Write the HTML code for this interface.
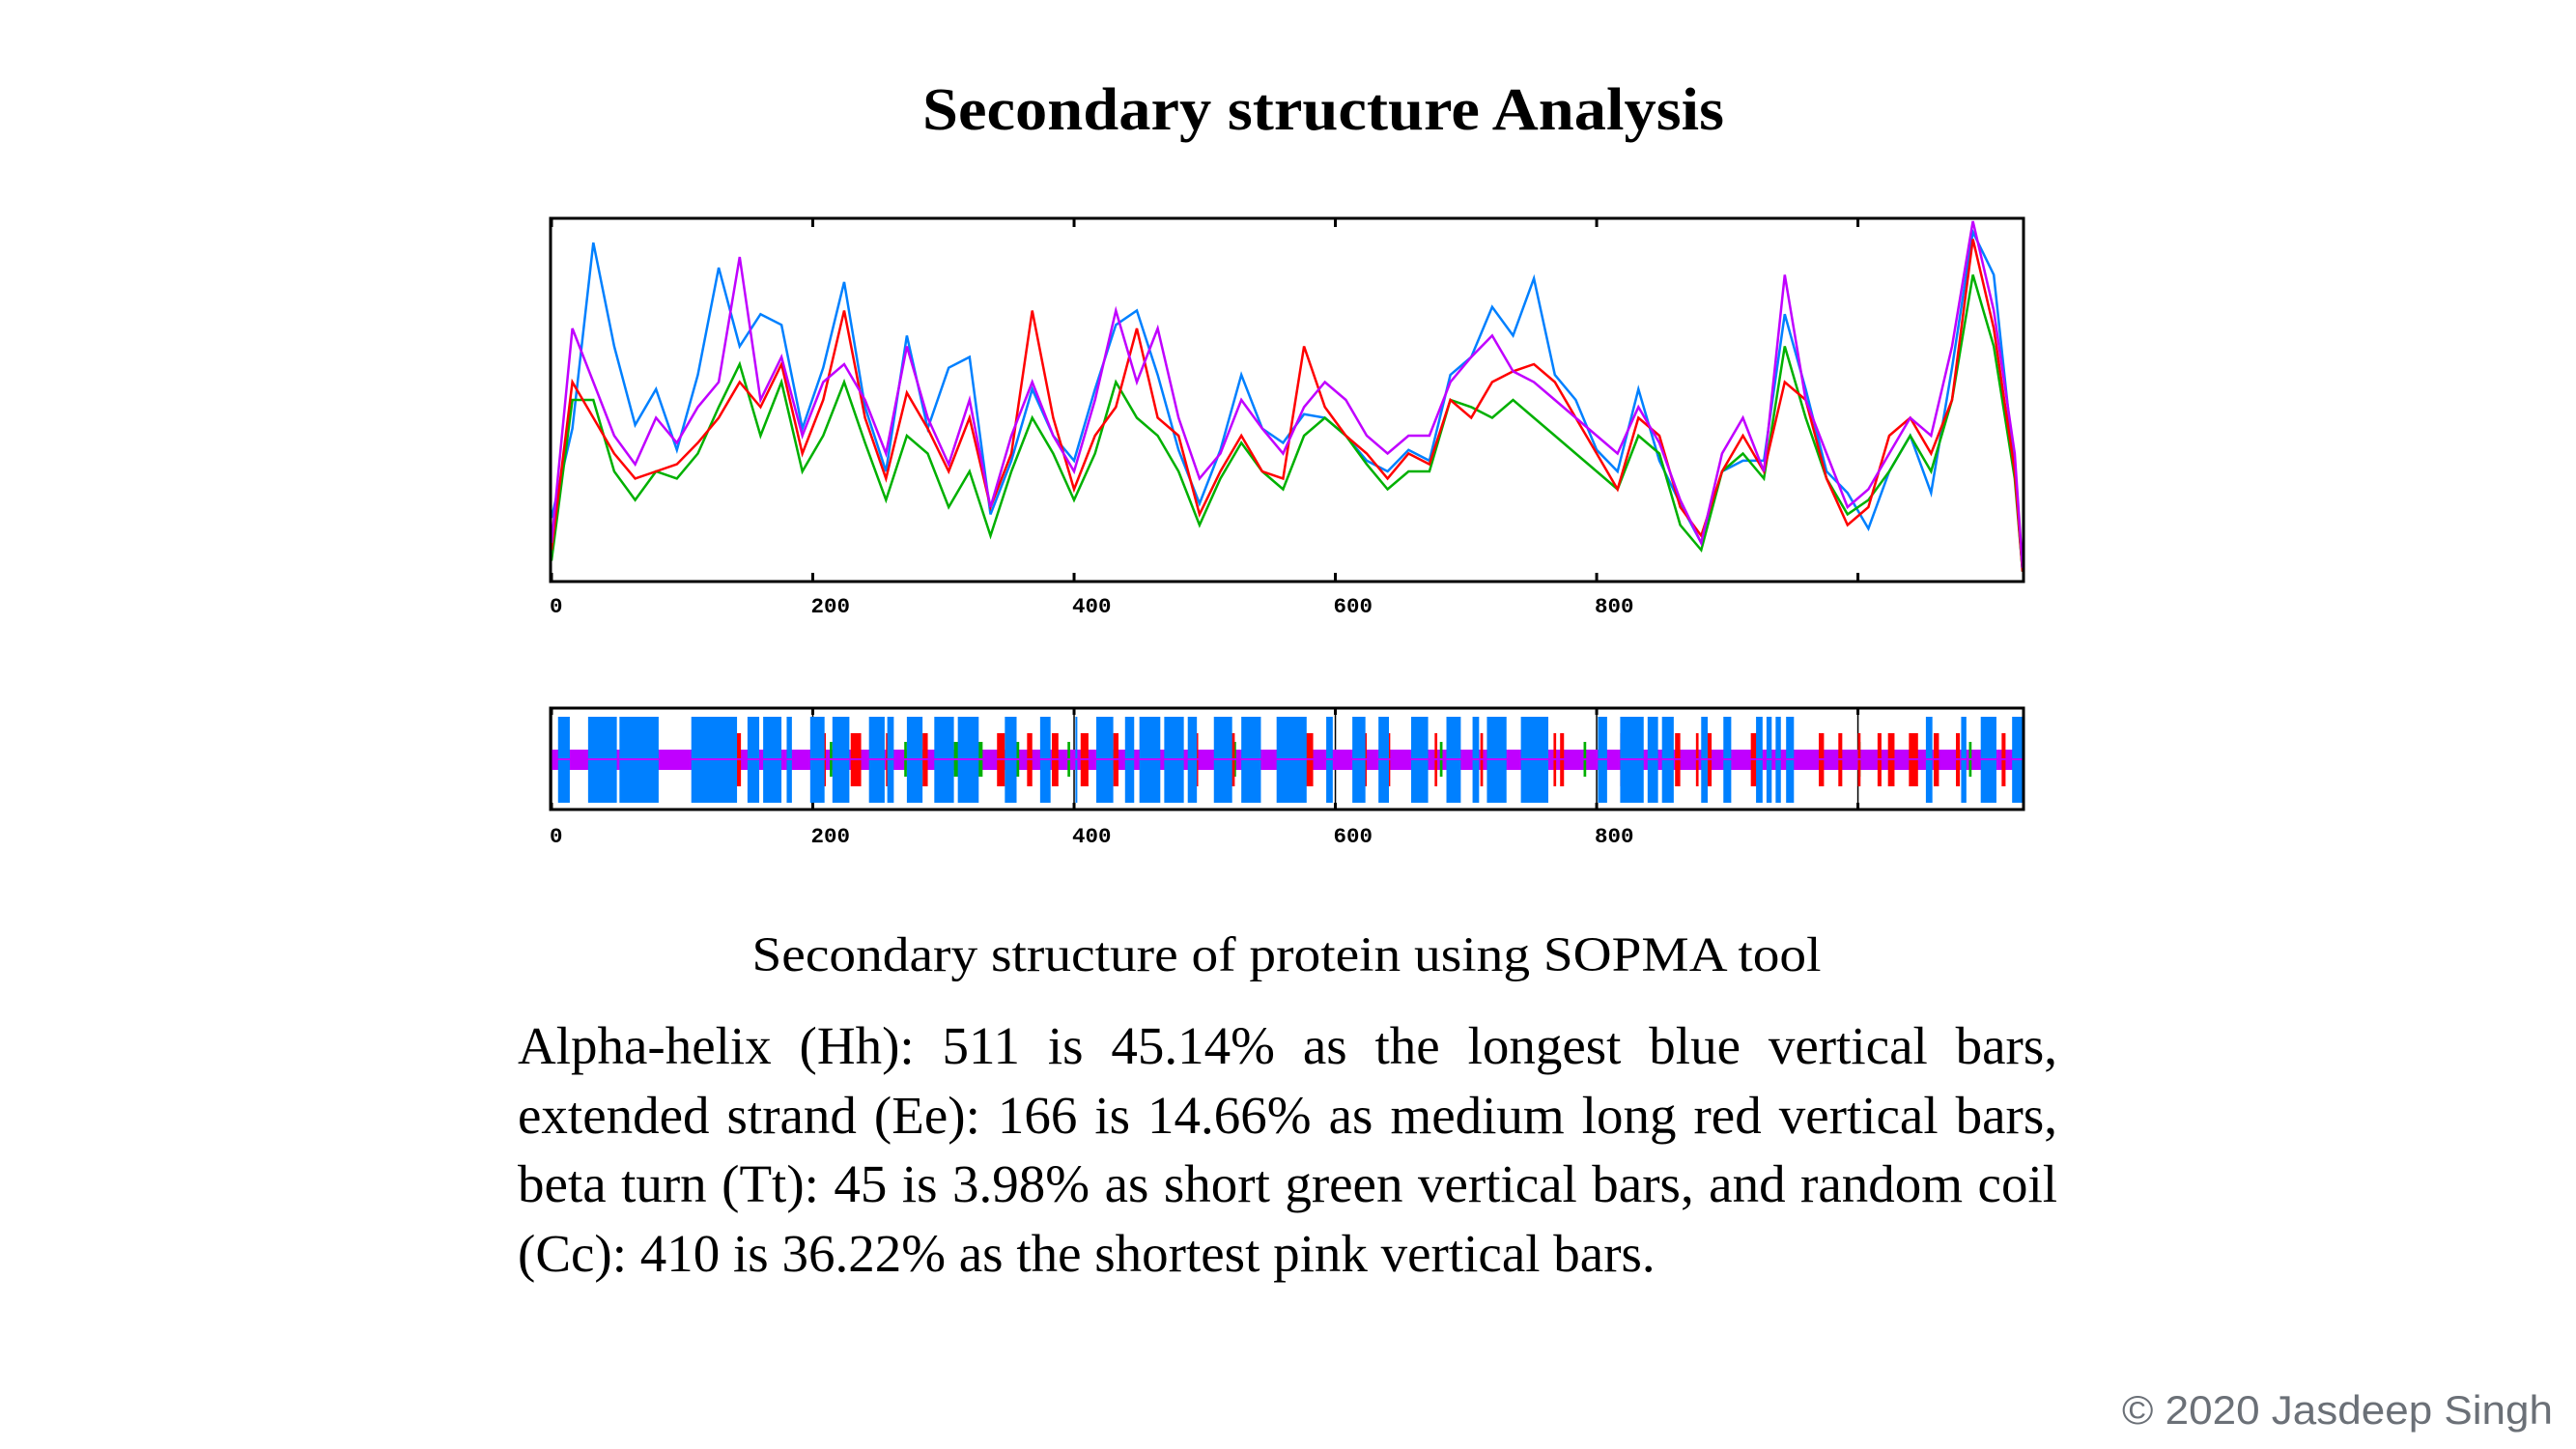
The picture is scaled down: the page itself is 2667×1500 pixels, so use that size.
<!DOCTYPE html>
<html><head><meta charset="utf-8"><style>
html,body{margin:0;padding:0;background:#fff;}
svg{display:block;position:absolute;left:0;top:0;}
#para{position:absolute;left:536px;top:1047px;width:1594px;font-family:"Liberation Serif",serif;font-size:55px;line-height:71.5px;color:#000;margin:0;}
#para span{display:block;white-space:nowrap;}
#para span.j{text-align:justify;text-align-last:justify;}
</style></head><body>
<svg id="root" width="2667" height="1500" viewBox="0 0 2667 1500" xmlns="http://www.w3.org/2000/svg">
<text x="1370" y="134" text-anchor="middle" font-family="Liberation Serif, serif" font-weight="bold" font-size="62" textLength="830" lengthAdjust="spacingAndGlyphs">Secondary structure Analysis</text>
<g id="top-chart"></g>
<g id="bottom-chart"></g>
<text x="1332" y="1005" text-anchor="middle" font-family="Liberation Serif, serif" font-size="51" textLength="1107" lengthAdjust="spacingAndGlyphs">Secondary structure of protein using SOPMA tool</text>
<text x="2643" y="1474" text-anchor="end" font-family="Liberation Sans, sans-serif" font-size="42" fill="#6b7077" textLength="446" lengthAdjust="spacingAndGlyphs">© 2020 Jasdeep Singh</text>
</svg>
<div id="para">
<span class="j">Alpha-helix (Hh): 511 is 45.14% as the longest blue vertical bars,</span>
<span class="j">extended strand (Ee): 166 is 14.66% as medium long red vertical bars,</span>
<span class="j">beta turn (Tt): 45 is 3.98% as short green vertical bars, and random coil</span>
<span>(Cc): 410 is 36.22% as the shortest pink vertical bars.</span>
</div>
<script>
const STEP = 16;
const X_MAX = 1126;
const tickLabels = ["0","200","400","600","800"];
const tickValues = [0,200,400,600,800,1000];
const helixValues = [0.17,0.42,0.94,0.65,0.43,0.53,0.36,0.57,0.87,0.65,0.74,0.71,0.42,0.59,0.83,0.48,0.30,0.68,0.42,0.59,0.62,0.18,0.33,0.53,0.40,0.33,0.53,0.71,0.75,0.57,0.36,0.21,0.36,0.57,0.42,0.38,0.46,0.45,0.40,0.33,0.30,0.36,0.33,0.57,0.62,0.76,0.68,0.84,0.57,0.50,0.36,0.30,0.53,0.33,0.21,0.10,0.30,0.33,0.33,0.74,0.53,0.30,0.24,0.14,0.30,0.40,0.24,0.59,0.97,0.85,0.30,0.02];
const strandValues = [0.08,0.55,0.45,0.35,0.28,0.30,0.32,0.38,0.45,0.55,0.48,0.60,0.35,0.50,0.75,0.45,0.28,0.52,0.42,0.30,0.45,0.20,0.35,0.75,0.45,0.25,0.40,0.48,0.70,0.45,0.40,0.18,0.30,0.40,0.30,0.28,0.65,0.48,0.40,0.35,0.28,0.35,0.32,0.50,0.45,0.55,0.58,0.60,0.55,0.45,0.35,0.25,0.45,0.40,0.20,0.12,0.30,0.40,0.30,0.55,0.50,0.28,0.15,0.20,0.40,0.45,0.35,0.50,0.95,0.70,0.30,0.02];
const turnValues = [0.05,0.50,0.50,0.30,0.22,0.30,0.28,0.35,0.48,0.60,0.40,0.55,0.30,0.40,0.55,0.38,0.22,0.40,0.35,0.20,0.30,0.12,0.30,0.45,0.35,0.22,0.35,0.55,0.45,0.40,0.30,0.15,0.28,0.38,0.30,0.25,0.40,0.45,0.40,0.32,0.25,0.30,0.30,0.50,0.48,0.45,0.50,0.45,0.40,0.35,0.30,0.25,0.40,0.35,0.15,0.08,0.30,0.35,0.28,0.65,0.45,0.28,0.18,0.22,0.30,0.40,0.30,0.50,0.85,0.65,0.28,0.02];
const coilValues = [0.10,0.70,0.55,0.40,0.32,0.45,0.38,0.48,0.55,0.90,0.50,0.62,0.40,0.55,0.60,0.50,0.35,0.65,0.45,0.32,0.50,0.20,0.40,0.55,0.40,0.30,0.50,0.75,0.55,0.70,0.45,0.28,0.35,0.50,0.42,0.35,0.48,0.55,0.50,0.40,0.35,0.40,0.40,0.55,0.62,0.68,0.58,0.55,0.50,0.45,0.40,0.35,0.48,0.38,0.22,0.10,0.35,0.45,0.30,0.85,0.50,0.35,0.20,0.25,0.35,0.45,0.40,0.65,1.00,0.75,0.35,0.03];
const helixSegments = [[5,14],[28,50],[52,82],[107,142],[150,159],[162,176],[180,184],[198,209],[215,228],[243,255],[257,262],[272,284],[293,308],[311,327],[347,356],[374,382],[401,402],[417,430],[439,446],[450,466],[469,484],[487,494],[507,521],[528,543],[555,578],[593,598],[613,623],[633,641],[658,671],[685,696],[705,710],[716,731],[742,763],[801,808],[818,836],[839,847],[850,859],[880,885],[897,903],[922,927],[930,934],[937,941],[945,951],[1052,1057],[1079,1083],[1094,1106],[1118,1126]];
const strandSegments = [[140,145],[207,210],[229,237],[256,260],[284,288],[341,347],[364,368],[383,388],[405,411],[430,434],[453,456],[480,483],[492,495],[508,510],[520,523],[577,583],[594,596],[622,624],[637,642],[667,669],[676,678],[711,713],[747,749],[767,769],[772,775],[818,819],[860,864],[876,878],[884,888],[898,902],[918,925],[970,974],[985,988],[1000,1002],[1015,1018],[1023,1028],[1039,1046],[1058,1062],[1075,1078],[1110,1113]];
const turnSegments = [[10,12],[136,138],[213,215],[244,246],[270,272],[308,312],[325,330],[355,358],[395,397],[460,462],[522,524],[680,682],[790,792],[1000,1002],[1025,1027],[1085,1087]];

const NS = "http://www.w3.org/2000/svg";
const X0 = 571, X1 = 2094;
function xScale(r){ return X0 + r*(X1-X0)/X_MAX; }
const TY0 = 227, TY1 = 601;
function yScale(v){ return (TY1-2) - v*(TY1-2-(TY0+2)); }
function mk(tag, attrs, parent){ const e=document.createElementNS(NS,tag); for(const k in attrs) e.setAttribute(k, attrs[k]); parent.appendChild(e); return e; }

const topG = document.getElementById('top-chart');
const seriesList = [[helixValues,'#0080ff','helix-line'],[turnValues,'#00b000','turn-line'],[strandValues,'#ff0000','strand-line'],[coilValues,'#c000ff','coil-line']];
for (const s of seriesList) {
  const vals = s[0];
  let d = '';
  vals.forEach((v,i)=>{ const r=Math.min(i*STEP, X_MAX); const x=xScale(r).toFixed(1), y=yScale(v).toFixed(1); d += (i? ' L':'M')+x+' '+y; });
  const p = mk('path',{d:d,fill:'none',stroke:s[1],'stroke-width':2.5},topG);
  
  
}
const topBox = mk('rect',{x:X0-1,y:TY0-1,width:X1-X0+2,height:TY1-TY0+2,fill:'none',stroke:'#000','stroke-width':3},topG);


tickValues.forEach(t=>{
  const x=xScale(t);
  mk('line',{x1:x,y1:TY0,x2:x,y2:TY0+8,stroke:'#000','stroke-width':3},topG);
  mk('line',{x1:x,y1:TY1-8,x2:x,y2:TY1,stroke:'#000','stroke-width':3},topG);
});
tickLabels.forEach((lab,i)=>{
  const t = mk('text',{x:xScale(tickValues[i])-2,y:634,'font-family':'Liberation Mono, monospace','font-weight':'bold','font-size':22,textLength:lab.length*13.5,lengthAdjust:'spacingAndGlyphs'},topG);
  t.textContent = lab;
  
  
});

const bot = document.getElementById('bottom-chart');
const BY0 = 733, BY1 = 838;
tickValues.forEach(t=>{
  const x=xScale(t);
  mk('line',{x1:x,y1:BY0,x2:x,y2:BY1,stroke:'#000','stroke-width':1.5},bot);
});
const coilBand = mk('rect',{x:X0,y:776,width:X1-X0,height:21,fill:'#c000ff'},bot);


function segs(list,color,y0,y1,name){
  list.forEach(sg=>{
    const x=xScale(sg[0]), w=Math.max(xScale(sg[1])-x,2);
    const r=mk('rect',{x:x,y:y0,width:w,height:y1-y0,fill:color},bot);
    
    
  });
}
segs(turnSegments,'#00b000',768,804,'turn-bar');
segs(strandSegments,'#ff0000',759,814,'strand-bar');
segs(helixSegments,'#0080ff',742,831,'helix-bar');
mk('line',{x1:X0,y1:786,x2:X1,y2:786,stroke:'#c000ff','stroke-width':2},bot);
const botBox = mk('rect',{x:X0-1,y:BY0,width:X1-X0+2,height:BY1-BY0,fill:'none',stroke:'#000','stroke-width':3},bot);


tickValues.forEach(t=>{
  const x=xScale(t);
  mk('line',{x1:x,y1:BY0,x2:x,y2:BY0+7,stroke:'#000','stroke-width':3},bot);
  mk('line',{x1:x,y1:BY1-7,x2:x,y2:BY1,stroke:'#000','stroke-width':3},bot);
});
tickLabels.forEach((lab,i)=>{
  const t = mk('text',{x:xScale(tickValues[i])-2,y:872,'font-family':'Liberation Mono, monospace','font-weight':'bold','font-size':22,textLength:lab.length*13.5,lengthAdjust:'spacingAndGlyphs'},bot);
  t.textContent = lab;
  
  
});
</script>
</body></html>
